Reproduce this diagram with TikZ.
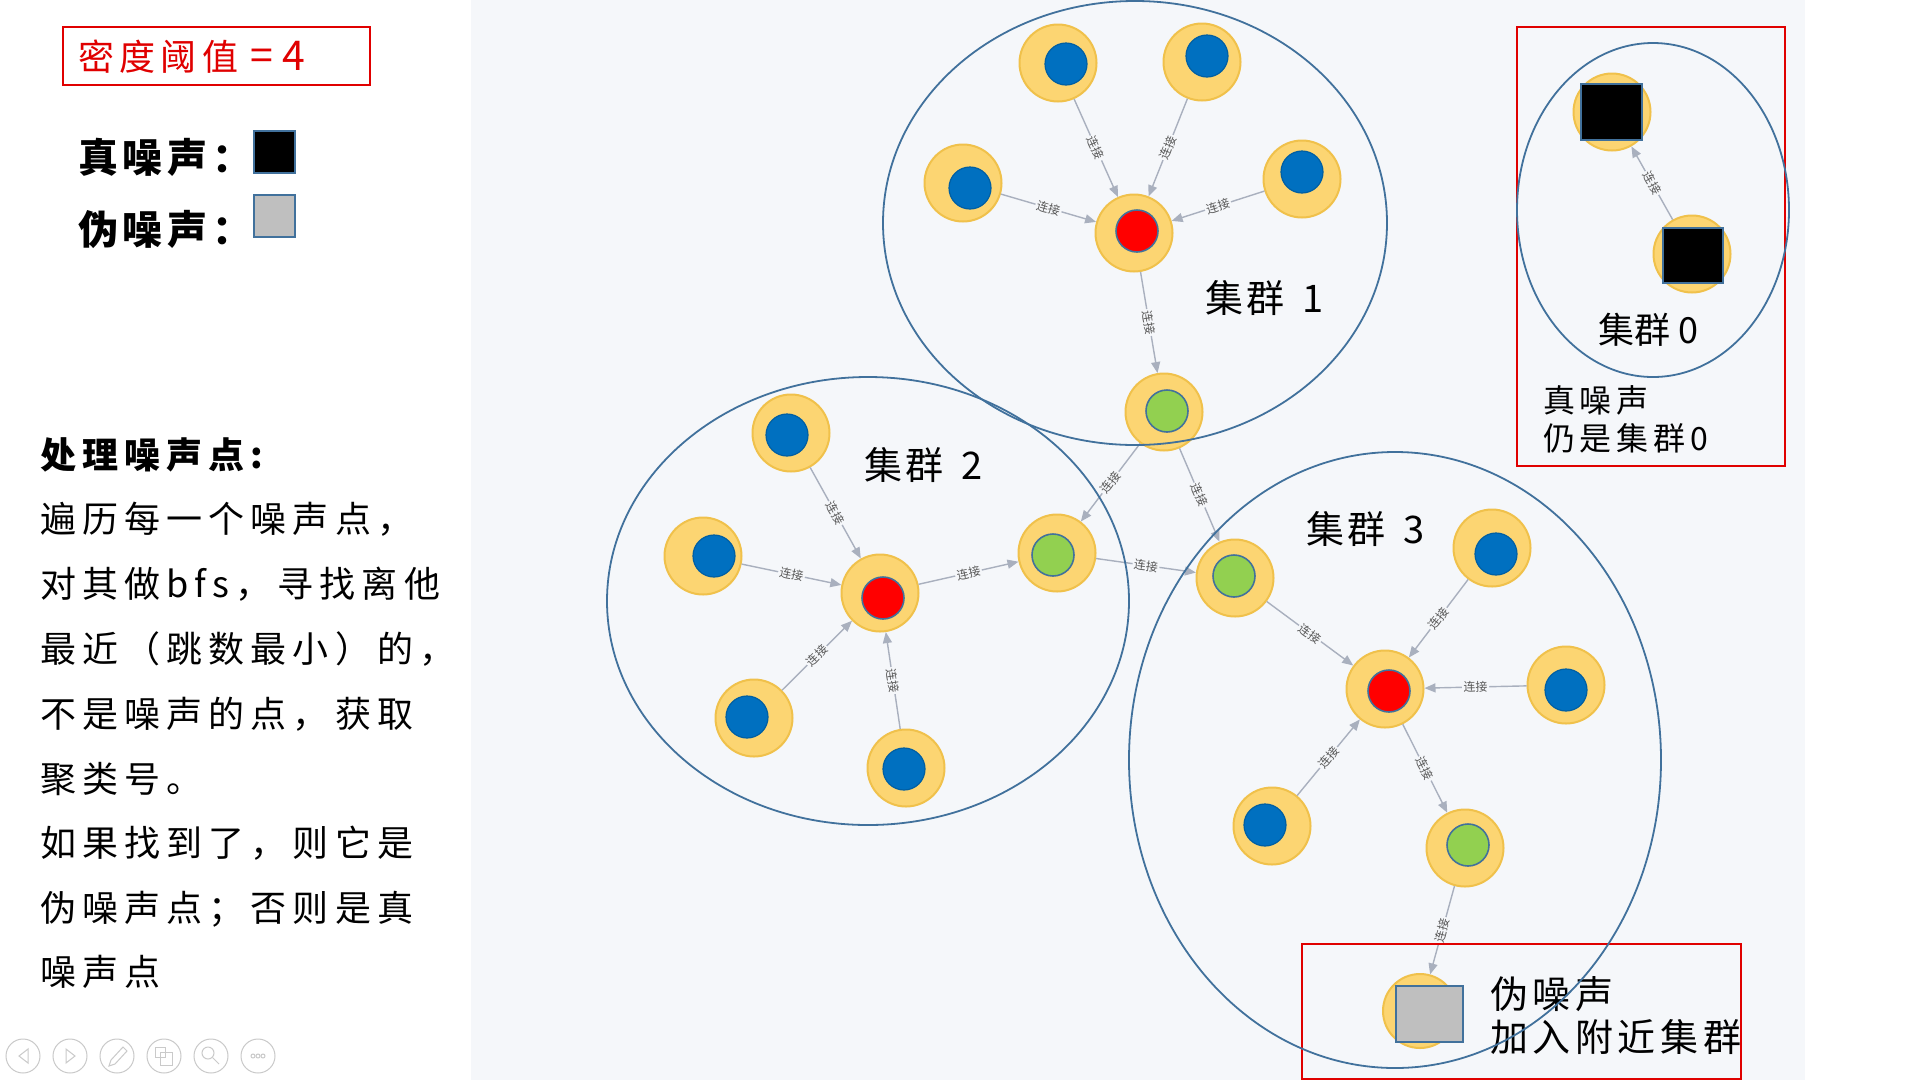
\documentclass[tikz,border=0pt]{standalone}
\usepackage{fontspec}
\usetikzlibrary{arrows.meta}
\setmainfont{Noto Sans CJK SC}
\newfontfamily\zh{Noto Sans CJK SC}
\newfontfamily\zhwide[LetterSpace=17]{Noto Sans CJK SC}
\newfontfamily\zhmid[LetterSpace=12]{Noto Sans CJK SC}
\newfontfamily\zhsoft[LetterSpace=15]{Noto Sans CJK SC}
\newfontfamily\zhtight[LetterSpace=10]{Noto Sans CJK SC}

\definecolor{panelbg}{HTML}{F5F7FA}
\definecolor{ringfill}{HTML}{FCD572}
\definecolor{ringedge}{HTML}{F0C14B}
\definecolor{coreblue}{HTML}{0070C0}
\definecolor{coreedge}{HTML}{41719C}
\definecolor{coregreen}{HTML}{92D050}
\definecolor{linkgray}{HTML}{A9B0BE}
\definecolor{labelgray}{HTML}{595959}
\definecolor{clusterblue}{HTML}{41719C}
\definecolor{alertred}{HTML}{E00000}
\definecolor{toolgray}{HTML}{CACACA}
\definecolor{noisegray}{HTML}{BFBFBF}

% point of the graph: yellow ring with a coloured core
\newcommand\gpoint[4]{%
  \node[ring] (#1) at (#2) {};
  \node[#4] (#1core) at (#3) {};
}

\begin{document}
\begin{tikzpicture}[x=1pt,y=-1pt,
  ring/.style={circle, fill=ringfill, draw=ringedge, line width=2pt, minimum size=77pt, inner sep=0pt},
  core/.style={circle, line width=1.2pt, minimum size=42pt, inner sep=0pt},
  bluecore/.style={core, fill=coreblue, draw=coreblue!85!black},
  redcore/.style={core, fill=red, draw=coreedge, line width=1.6pt},
  greencore/.style={core, fill=coregreen, draw=coreedge, line width=1.6pt},
  noisesq/.style={rectangle, draw=coreedge, line width=2pt, inner sep=0pt},
  link/.style={draw=linkgray, line width=1.4pt, -{Triangle[length=11pt,width=9pt]}},
  linklabel/.style={sloped, midway, fill=panelbg, inner sep=1.5pt, text=labelgray, font=\zh\fontsize{12pt}{12pt}\selectfont},
  cluster/.style={draw=clusterblue, line width=1.8pt},
  alertbox/.style={draw=alertred, line width=2pt},
  txt/.style={anchor=base west, inner sep=0pt},
  tool/.style={draw=toolgray, line width=1pt}
]
\useasboundingbox (0,0) rectangle (1920,1080);
\fill[white] (0,0) rectangle (1920,1080);
\fill[panelbg] (471,0) rectangle (1805,1080);

% ---------- legend and explanation ----------
\draw[alertbox] (63,27) rectangle (370,85);
\node[txt, text=alertred, font=\zhsoft\fontsize{36pt}{40pt}\selectfont] (threshold) at (78,70)
  {密度阈值\hspace{12pt}{\fontsize{41pt}{44pt}\selectfont =\hspace{9pt}4}};

\node[txt, font=\zhmid\bfseries\fontsize{40pt}{44pt}\selectfont] (truelbl) at (78,172) {真噪声：};
\node[noisesq, fill=black, minimum width=41pt, minimum height=42pt] (truesq) at (274.5,152) {};
\node[txt, font=\zhmid\bfseries\fontsize{40pt}{44pt}\selectfont] (falselbl) at (78,244) {伪噪声：};
\node[noisesq, fill=noisegray, minimum width=41pt, minimum height=42pt] (falsesq) at (274.5,216) {};

\begin{scope}[every node/.style={txt, font=\zhwide\fontsize{36pt}{40pt}\selectfont}]
  \node[font=\zhwide\bfseries\fontsize{36pt}{40pt}\selectfont] (l1) at (40,468) {处理噪声点:};
  \node (l2) at (40,532) {遍历每一个噪声点，};
  \node (l3) at (40,597) {对其做bfs，寻找离他};
  \node (l4) at (40,662) {最近（跳数最小）的，};
  \node (l5) at (40,727) {不是噪声的点，获取};
  \node (l6) at (40,792) {聚类号。};
  \node (l7) at (40,856) {如果找到了，则它是};
  \node (l8) at (40,921) {伪噪声点；否则是真};
  \node (l9) at (40,985) {噪声点};
\end{scope}

% ---------- cluster 1 ----------
\gpoint{a}{1058,63}{1066,64}{bluecore}
\gpoint{b}{1202,62}{1207,56}{bluecore}
\gpoint{c}{963,183}{970,188}{bluecore}
\gpoint{d}{1302,179}{1302,172}{bluecore}
\gpoint{ra}{1134,233}{1137,231}{redcore}
\gpoint{ga}{1164,412}{1167,411}{greencore}

% ---------- cluster 2 ----------
\gpoint{e}{791,433}{787,435}{bluecore}
\gpoint{f}{703,556}{714,556}{bluecore}
\gpoint{rb}{880,593}{883,598}{redcore}
\gpoint{gb}{1057,553}{1053,555}{greencore}
\gpoint{p}{754,718}{747,717}{bluecore}
\gpoint{h}{906,768}{904,769}{bluecore}

% ---------- cluster 3 ----------
\gpoint{gc}{1235,578}{1234,576}{greencore}
\gpoint{i}{1492,548}{1496,554}{bluecore}
\gpoint{rc}{1385,689}{1389,691}{redcore}
\gpoint{j}{1566,685}{1566,690}{bluecore}
\gpoint{k}{1272,826}{1265,825}{bluecore}
\gpoint{gd}{1465,848}{1468,845}{greencore}
\node[ring, minimum size=74pt] (n) at (1420,1011) {};
\node[noisesq, fill=noisegray, minimum width=67pt, minimum height=56pt] (nsq) at (1429.5,1014) {};

% ---------- cluster 0 ----------
\node[ring] (s1) at (1612,112) {};
\node[noisesq, fill=black, minimum width=61pt, minimum height=56pt] (s1sq) at (1611.5,112) {};
\node[ring] (s2) at (1692,254) {};
\node[noisesq, fill=black, minimum width=60pt, minimum height=55pt] (s2sq) at (1693,255.5) {};

% ---------- links ----------
\draw[link] (a) -- node[linklabel]{连接} (ra);
\draw[link] (b) -- node[linklabel]{连接} (ra);
\draw[link] (c) -- node[linklabel]{连接} (ra);
\draw[link] (d) -- node[linklabel]{连接} (ra);
\draw[link] (ra) -- node[linklabel]{连接} (ga);
\draw[link] (ga) -- node[linklabel]{连接} (gb);
\draw[link] (ga) -- node[linklabel]{连接} (gc);
\draw[link] (e) -- node[linklabel]{连接} (rb);
\draw[link] (f) -- node[linklabel]{连接} (rb);
\draw[link] (p) -- node[linklabel]{连接} (rb);
\draw[link] (h) -- node[linklabel]{连接} (rb);
\draw[link] (rb) -- node[linklabel]{连接} (gb);
\draw[link] (gb) -- node[linklabel]{连接} (gc);
\draw[link] (gc) -- node[linklabel]{连接} (rc);
\draw[link] (i) -- node[linklabel]{连接} (rc);
\draw[link] (j) -- node[linklabel]{连接} (rc);
\draw[link] (k) -- node[linklabel]{连接} (rc);
\draw[link] (rc) -- node[linklabel]{连接} (gd);
\draw[link] (gd) -- node[linklabel]{连接} (n);
\draw[link] (s2) -- node[linklabel]{连接} (s1);

% ---------- cluster labels and notes ----------
\node[txt, font=\zhtight\fontsize{38pt}{42pt}\selectfont] (c1lbl) at (1205,312) {集群\hspace{18pt}1};
\node[txt, font=\zhtight\fontsize{38pt}{42pt}\selectfont] (c2lbl) at (864,479) {集群\hspace{18pt}2};
\node[txt, font=\zhtight\fontsize{38pt}{42pt}\selectfont] (c3lbl) at (1306,543) {集群\hspace{18pt}3};
\node[txt, font=\zh\fontsize{36pt}{40pt}\selectfont] (c0lbl) at (1598,343) {集群 0};

\draw[alertbox] (1517,27) rectangle (1785,466);
\node[txt, font=\zhsoft\fontsize{32pt}{36pt}\selectfont] (note0a) at (1543,412) {真噪声};
\node[txt, font=\zhsoft\fontsize{32pt}{36pt}\selectfont] (note0b) at (1543,450) {仍是集群0};

\draw[alertbox] (1302,944) rectangle (1741,1079);
\node[txt, font=\zhmid\fontsize{38pt}{42pt}\selectfont] (note3a) at (1490,1008) {伪噪声};
\node[txt, font=\zhmid\fontsize{38pt}{42pt}\selectfont] (note3b) at (1490,1051) {加入附近集群};

% ---------- cluster outlines ----------
\draw[cluster] (1135,223) ellipse [x radius=252pt, y radius=222pt];
\draw[cluster] (868,601) ellipse [x radius=261pt, y radius=224pt];
\draw[cluster] (1395,760) ellipse [x radius=266pt, y radius=308pt];
\draw[cluster] (1653,210) ellipse [x radius=136pt, y radius=167pt];

% ---------- slide-show toolbar ----------
\foreach \x in {23,70,117,164,211,258} \draw[tool] (\x,1056) circle [radius=17pt];
\draw[tool] (28,1049) -- (19,1056) -- (28,1063) -- cycle;
\draw[tool] (66,1049) -- (75,1056) -- (66,1063) -- cycle;
\draw[tool] (109,1066) -- (111,1060) -- (123,1047) -- (127,1051) -- (115,1064) -- cycle;
\draw[tool] (155,1047) rectangle (165,1057);
\draw[tool] (160,1052) rectangle (172,1065);
\draw[tool] (208,1053) circle [radius=6pt];
\draw[tool] (212.5,1057.5) -- (219,1064);
\foreach \x in {253,258,263} \draw[tool] (\x,1056) circle [radius=2pt];
\end{tikzpicture}
\end{document}
